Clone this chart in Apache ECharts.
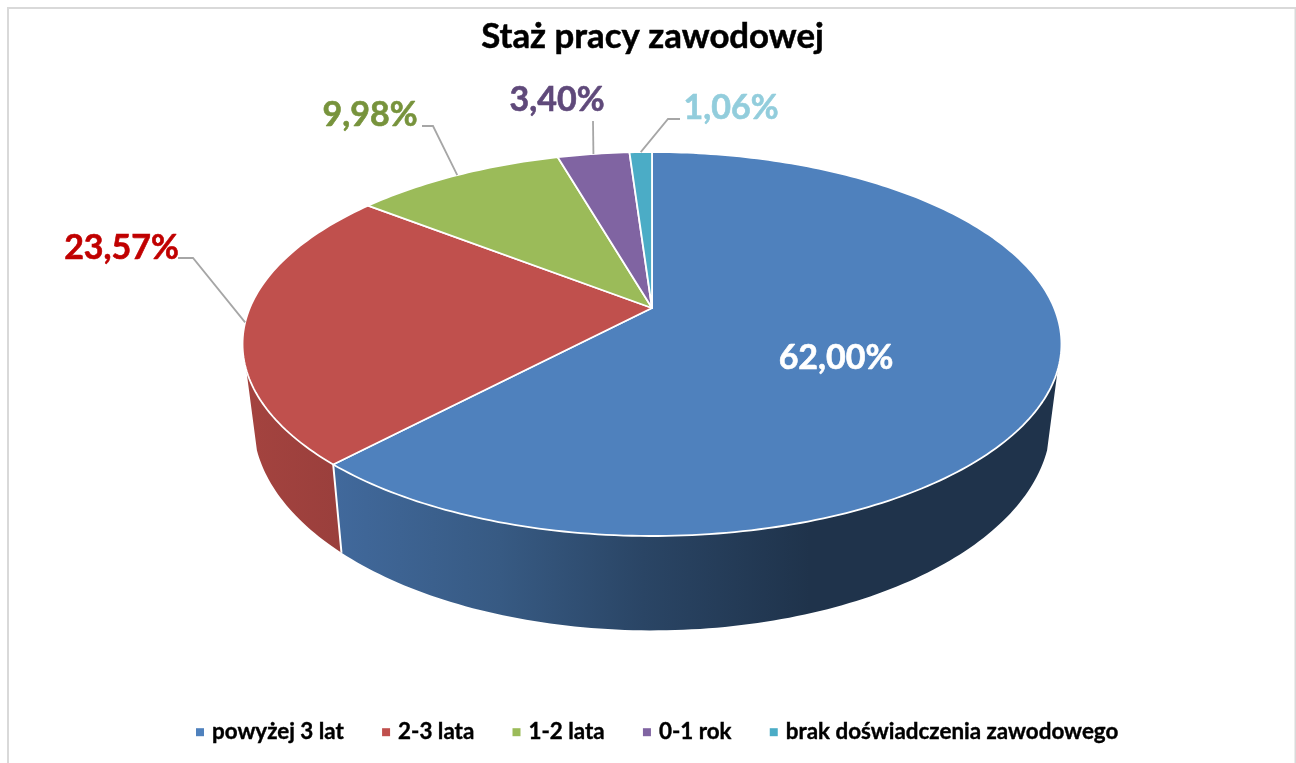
<!DOCTYPE html>
<html>
<head>
<meta charset="utf-8">
<title>Staż pracy zawodowej</title>
<script src="https://cdn.jsdelivr.net/npm/echarts@6/dist/echarts.min.js"></script>
<style>
  html, body { margin: 0; padding: 0; background: #fff; }
  #chart { width: 1296px; height: 763px; }
</style>
</head>
<body>
<div id="chart"></div>
<script>
const categories = ['powyżej 3 lat', '2-3 lata', '1-2 lata', '0-1 rok', 'brak doświadczenia zawodowego']
const shares = [62.00, 23.57, 9.98, 3.40, 1.06]

const sliceColors = ['#4F81BD', '#C0504D', '#9BBB59', '#8064A2', '#4BACC6']
const labelColors = ['#FFFFFF', '#C00000', '#77933C', '#5F497A', '#92CDDC']
const fontFamily = 'Lato, Carlito, sans-serif'

// perspective of the top face, fitted to the picture
const cx = 652
const cy = 308
const radiusX = 402.2
const radiusY = 185.25
const tilt = 0.1875
// rim angles where the side wall meets the outline of the disc
const wallFrom = 108.4
const wallTo = 251.6

// where each label sits and how its leader line leaves it (null = no leader)
const labelPos = [[836, 358], [121.5, 248], [370, 115], [557, 100], [731, 108]]
const leaders = [
  null,
  [[178, 258], [193, 258]],
  [[422, 126], [433, 126]],
  [[593, 121]],
  [[680, 119], [668, 119]]
]

const total = shares.reduce((a, b) => a + b, 0)
const starts = []
shares.reduce((sum, v, i) => {
  starts[i] = sum
  return sum + v
}, 0)

// angle in degrees, clockwise from the top of the pie
function topPoint(deg) {
  const a = deg * Math.PI / 180
  const u = Math.sin(a)
  const v = Math.cos(a)
  const d = 1 + tilt * v
  return [cx + radiusX * u / d, cy - radiusY * v / d]
}

// same rim point on the lower edge of the disc
function bottomPoint(deg) {
  const p = topPoint(deg)
  return [cx + (p[0] - cx) * 0.974, p[1] * 1.086 + 48.3]
}

function arc(from, to, fn) {
  const pts = []
  const n = Math.max(2, Math.ceil(Math.abs(to - from)))
  for (let i = 0; i <= n; i++) {
    pts.push(fn(from + (to - from) * i / n))
  }
  return pts
}

function sideFill(i) {
  if (i === 0) {
    return new echarts.graphic.LinearGradient(333, 0, 810, 0, [
      { offset: 0, color: '#41699C' },
      { offset: 0.35, color: '#375A83' },
      { offset: 0.65, color: '#2A4565' },
      { offset: 1, color: '#1F334B' }
    ], true)
  }
  if (i === 1) {
    return new echarts.graphic.LinearGradient(245, 0, 340, 0, [
      { offset: 0, color: '#A4433F' },
      { offset: 1, color: '#9A3F3C' }
    ], true)
  }
  return sliceColors[i]
}

function renderSlice(i, params, api) {
  const startDeg = api.value(0) / total * 360
  const endDeg = api.value(1) / total * 360
  const midDeg = (startDeg + endDeg) / 2
  const children = []

  // side wall, only the part facing us
  const from = Math.max(startDeg, wallFrom)
  const to = Math.min(endDeg, wallTo)
  if (to > from) {
    const wall = arc(from, to, topPoint).concat(arc(to, from, bottomPoint))
    children.push({
      type: 'polygon',
      z2: 1,
      shape: { points: wall },
      style: { fill: sideFill(i), stroke: null }
    })
    if (endDeg < wallTo) {
      children.push({
        type: 'line',
        z2: 2,
        shape: {
          x1: topPoint(endDeg)[0], y1: topPoint(endDeg)[1],
          x2: bottomPoint(endDeg)[0], y2: bottomPoint(endDeg)[1]
        },
        style: { stroke: '#fff', lineWidth: 2 }
      })
    }
  }

  children.push({
    type: 'polygon',
    z2: 3,
    shape: { points: [[cx, cy]].concat(arc(startDeg, endDeg, topPoint)) },
    style: { fill: sliceColors[i], stroke: '#fff', lineWidth: 1.8, lineJoin: 'round' }
  })

  if (leaders[i]) {
    children.push({
      type: 'polyline',
      z2: 4,
      shape: { points: leaders[i].concat([topPoint(midDeg)]) },
      style: { stroke: '#A6A6A6', lineWidth: 1.8, fill: null }
    })
  }

  children.push({
    type: 'text',
    z2: 5,
    style: {
      text: shares[i].toFixed(2).replace('.', ',') + '%',
      x: labelPos[i][0],
      y: labelPos[i][1],
      fill: labelColors[i],
      stroke: labelColors[i],
      lineWidth: 0.6,
      font: 'bold 34px ' + fontFamily,
      textAlign: 'center',
      textVerticalAlign: 'middle'
    }
  })

  return { type: 'group', children: children }
}

const chartInstance = echarts.init(document.getElementById('chart'))

chartInstance.setOption({
  animation: false,
  backgroundColor: '#fff',
  title: {
    text: 'Staż pracy zawodowej',
    left: 647.5,
    textAlign: 'center',
    top: 14,
    textStyle: {
      fontFamily: fontFamily,
      fontSize: 34.8,
      fontWeight: 'bold',
      color: '#000',
      textBorderColor: '#000',
      textBorderWidth: 0.5
    }
  },
  legend: {
    data: categories,
    left: 191,
    top: 716,
    icon: 'rect',
    itemWidth: 8,
    itemHeight: 8,
    itemGap: 38,
    textStyle: {
      fontFamily: fontFamily,
      fontSize: 22.4,
      fontWeight: 'bold',
      color: '#000',
      textBorderColor: '#000',
      textBorderWidth: 0.4,
      padding: [0, 0, 0, 3]
    },
    selectedMode: false
  },
  graphic: [
    {
      type: 'rect',
      silent: true,
      z: -1,
      shape: { x: 8, y: 8, width: 1287.5, height: 800 },
      style: { fill: null, stroke: '#D9D9D9', lineWidth: 2 }
    }
  ],
  series: categories.map((name, i) => ({
    type: 'custom',
    name: name,
    coordinateSystem: 'none',
    itemStyle: { color: sliceColors[i] },
    data: [[starts[i], starts[i] + shares[i]]],
    renderItem: (params, api) => renderSlice(i, params, api)
  }))
})
</script>
</body>
</html>
